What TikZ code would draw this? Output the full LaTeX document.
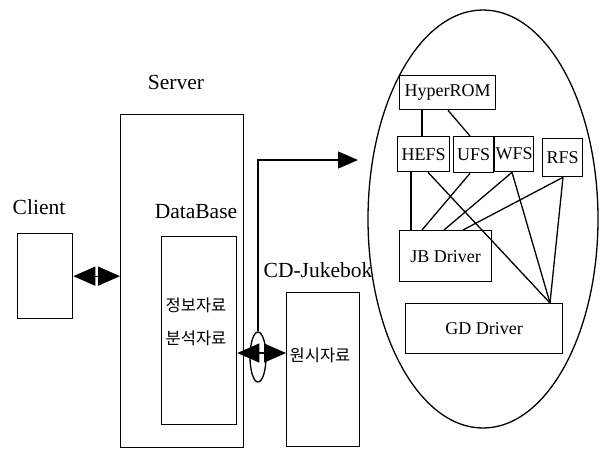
\documentclass[tikz,border=0pt]{standalone}
\usepackage{fontspec}
\setmainfont{Liberation Serif}
\newfontfamily\kr{Noto Sans CJK KR}
\usetikzlibrary{arrows.meta,shapes.geometric}
\begin{document}
\begin{tikzpicture}[x=1pt,y=-1pt,line width=1.3pt,
  box/.style={draw,rectangle,inner sep=0pt,anchor=north west},
  big/.style={font=\fontsize{21.5}{24}\selectfont,inner sep=0pt},
  small/.style={font=\fontsize{18}{21}\selectfont},
  kor/.style={font=\kr\fontsize{16.5}{19}\selectfont,inner sep=0pt},
  dbl/.style={{Triangle[length=22pt,width=19pt]}-{Triangle[length=22pt,width=19pt]}},
  sgl/.style={-{Triangle[length=20pt,width=17pt]}}]
\useasboundingbox (0,0) rectangle (601,448);
% outer parts
\node[box,minimum width=123pt,minimum height=333pt] (server) at (120,114) {};
\node[box,minimum width=75pt,minimum height=188pt] (db) at (161,236) {};
\node[box,minimum width=55pt,minimum height=85pt] (client) at (17,233) {};
\node[box,minimum width=73pt,minimum height=154pt] (juke) at (286,292) {};
\node[big] (lserver) at (176,82) {Server};
\node[big] (lclient) at (39,207) {Client};
\node[big] (ldb) at (196,212) {DataBase};
\node[big] (ljuke) at (318,270) {CD-Jukebok};
\node[kor] (k1) at (196,305) {정보자료};
\node[kor] (k2) at (196,338) {분석자료};
\node[kor] (k3) at (320,355) {원시자료};
% ellipse part
\node[draw,ellipse,inner sep=0pt,minimum width=230pt,minimum height=418pt] (ell) at (483,219) {};
\node[box,small,minimum width=96pt,minimum height=34pt] (hyper) at (399,75) {HyperROM};
\node[box,small,minimum width=52pt,minimum height=35pt] (hefs) at (397,136) {HEFS};
\node[box,small,minimum width=40pt,minimum height=36pt] (ufs) at (453,136) {UFS};
\node[box,small,minimum width=39pt,minimum height=35pt] (wfs) at (494,136) {WFS};
\node[box,small,minimum width=40pt,minimum height=38pt] (rfs) at (542,138) {RFS};
\node[box,small,minimum width=92pt,minimum height=51pt] (jb) at (399,230) {JB Driver};
\node[box,small,minimum width=157pt,minimum height=50pt] (gd) at (405,303) {GD Driver};
% small ellipse on the link
\node[draw,ellipse,inner sep=0pt,minimum width=16pt,minimum height=50pt] (se) at (258,357) {};
% connectors
\draw[dbl] (client.east) -- (client.east -| server.west);
\coordinate (y1) at (0,353);
\draw[dbl] (db.east |- y1) -- (juke.west |- y1);
\coordinate (tip) at (358,160);
\draw[sgl] (se.north) |- (tip);
\coordinate (g) at ([xshift=145pt]gd.north west);
\draw ([xshift=23pt]hyper.south west) -- ([xshift=25pt]hefs.north west);
\draw ([xshift=49pt]hyper.south west) -- ([xshift=17pt]ufs.north west);
\draw ([xshift=14pt]hefs.south west) -- ([xshift=12pt]jb.north west);
\draw ([xshift=31pt]hefs.south west) -- (g);
\draw ([xshift=17pt]ufs.south west) -- ([xshift=23pt]jb.north west);
\draw ([xshift=18pt]wfs.south west) -- ([xshift=45pt]jb.north west);
\draw ([xshift=18pt]wfs.south west) -- (g);
\draw ([xshift=21pt]rfs.south west) -- ([xshift=64pt]jb.north west);
\draw ([xshift=21pt]rfs.south west) -- (g);
\end{tikzpicture}
\end{document}
